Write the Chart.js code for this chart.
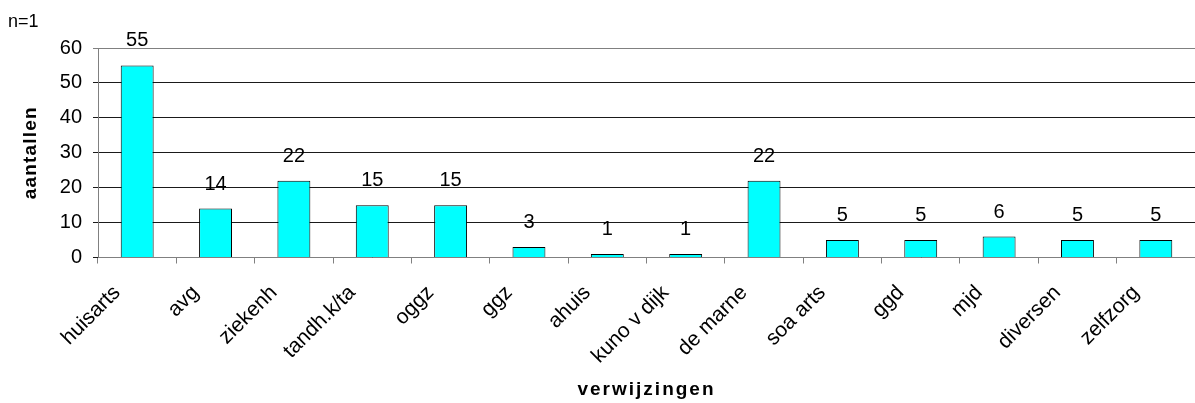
<!DOCTYPE html>
<html>
<head>
<meta charset="utf-8">
<script src="https://cdn.jsdelivr.net/npm/chart.js@4"></script>
<style>
  html, body { margin: 0; padding: 0; background: #fff; }
  canvas { display: block; }
</style>
</head>
<body>
<canvas id="chart" width="1195" height="403"></canvas>
<script>
const categories = ['huisarts', 'avg', 'ziekenh', 'tandh.k/ta', 'oggz', 'ggz', 'ahuis',
  'kuno v dijk', 'de marne', 'soa arts', 'ggd', 'mjd', 'diversen', 'zelfzorg'];
const counts = [55, 14, 22, 15, 15, 3, 1, 1, 22, 5, 5, 6, 5, 5];
const yTicks = [0, 10, 20, 30, 40, 50, 60];

const FONT = 'Arial, "Liberation Sans", sans-serif';

// value labels, titles and the n=1 note
const extras = {
  id: 'extras',
  afterDatasetsDraw(chart) {
    const ctx = chart.ctx;
    const area = chart.chartArea;
    const meta = chart.getDatasetMeta(0);
    ctx.save();
    ctx.fillStyle = '#000';
    ctx.font = '20px ' + FONT;
    ctx.textAlign = 'center';
    ctx.textBaseline = 'alphabetic';
    meta.data.forEach((bar, i) => {
      ctx.fillText(String(counts[i]), bar.x, bar.y - 19);
    });

    ctx.textAlign = 'left';
    ctx.font = '18px ' + FONT;
    ctx.fillText('n=1', 8, 27);

    ctx.font = 'bold 19px ' + FONT;
    ctx.textAlign = 'center';
    ctx.textBaseline = 'middle';
    ctx.letterSpacing = '2px';
    ctx.fillText('verwijzingen', (area.left + area.right) / 2, 390);

    ctx.letterSpacing = '1.2px';
    ctx.translate(31, (area.top + area.bottom) / 2);
    ctx.rotate(-Math.PI / 2);
    ctx.fillText('aantallen', 0, 0);
    ctx.restore();
  }
};

new Chart(document.getElementById('chart'), {
  type: 'bar',
  data: {
    labels: categories,
    datasets: [{
      data: counts,
      backgroundColor: '#00FFFF',
      borderColor: '#000',
      borderWidth: 1,
      categoryPercentage: 1,
      barPercentage: 0.42
    }]
  },
  options: {
    responsive: false,
    animation: false,
    devicePixelRatio: 1,
    layout: { padding: { left: 0, top: 48, right: 0, bottom: 0 } },
    plugins: {
      legend: { display: false },
      tooltip: { enabled: false }
    },
    scales: {
      x: {
        afterFit(scale) { scale.height = 145.5; },
        grid: {
          offset: true,
          drawOnChartArea: false,
          tickLength: 6,
          color: '#808080'
        },
        border: { color: '#808080', width: 1 },
        ticks: {
          autoSkip: false,
          minRotation: 45,
          maxRotation: 45,
          labelOffset: -20,
          color: '#000',
          padding: 17,
          font: { family: FONT, size: 21 }
        }
      },
      y: {
        min: 0,
        max: 60,
        afterFit(scale) { scale.width = 98; },
        afterBuildTicks(scale) { scale.ticks = yTicks.map(v => ({ value: v })); },
        grid: {
          tickLength: 5,
          color: ctx => (ctx.tick && ctx.tick.value === 60 ? '#808080' : '#1a1a1a')
        },
        border: { color: '#808080', width: 1 },
        ticks: {
          color: '#000',
          padding: 11,
          font: { family: FONT, size: 20 }
        }
      }
    }
  },
  plugins: [extras]
});
</script>
</body>
</html>
